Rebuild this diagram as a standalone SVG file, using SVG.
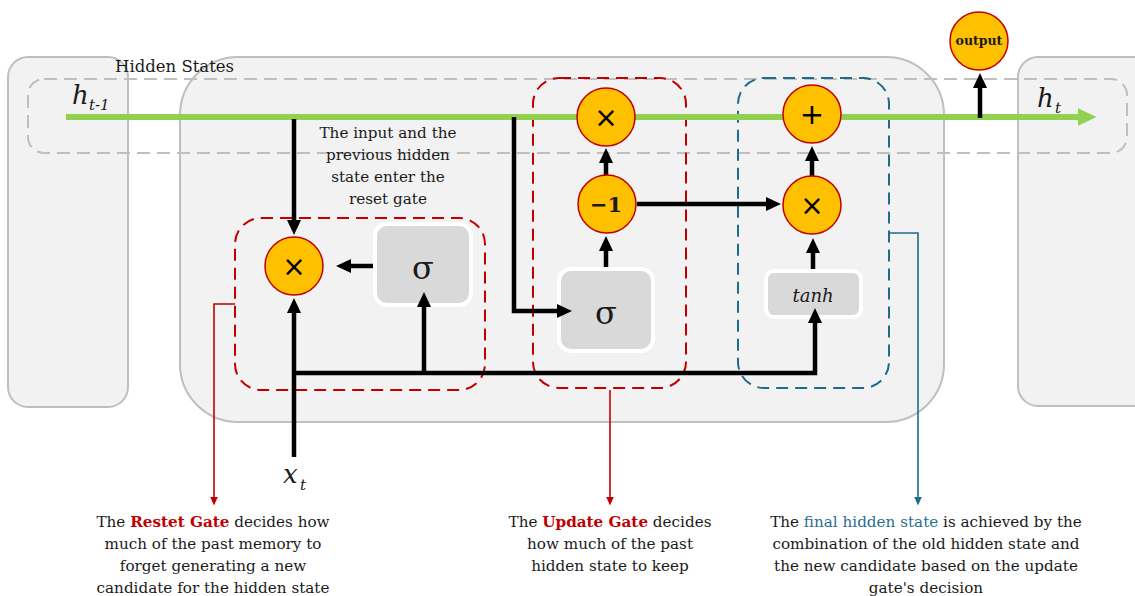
<svg xmlns="http://www.w3.org/2000/svg" width="1135" height="596" viewBox="0 0 1135 596">
  <style>
    .cell { fill: #f2f2f2; stroke: #bfbfbf; stroke-width: 2; }
    .band { fill: none; stroke: #bfbfbf; stroke-width: 2; stroke-dasharray: 13 7; }
    .gate-red { fill: none; stroke: #c00000; stroke-width: 2; stroke-dasharray: 12 7; }
    .gate-blue { fill: none; stroke: #1f6b8c; stroke-width: 2; stroke-dasharray: 12 7; }
    .op { fill: #ffc000; stroke: #c00000; stroke-width: 1.5; }
    .fn { fill: #d9d9d9; stroke: #ffffff; stroke-width: 4; }
    .flow { fill: none; stroke: #000000; stroke-width: 4.5; }
    .state { fill: none; stroke: #92d050; stroke-width: 6; }
    .callout-red { fill: none; stroke: #c00000; stroke-width: 1.6; }
    .callout-blue { fill: none; stroke: #1f6b8c; stroke-width: 1.6; }
    text { font-family: "DejaVu Serif", "Liberation Serif", serif; fill: #1a1a1a; }
    .note { font-size: 15.2px; text-anchor: middle; }
    .math { font-style: italic; }
    .sym { font-family: "DejaVu Sans", "Liberation Sans", sans-serif; text-anchor: middle; fill: #000; }
    .red { fill: #c00000; font-weight: bold; }
    .blue { fill: #2b6f8f; }
  </style>
  <defs>
    <marker id="arrow" markerUnits="userSpaceOnUse" viewBox="0 0 15 14" markerWidth="15" markerHeight="14" refX="1" refY="7" orient="auto">
      <path d="M0,0 L15,7 L0,14 z" fill="#000"/>
    </marker>
    <marker id="arrow-green" markerUnits="userSpaceOnUse" viewBox="0 0 19 18" markerWidth="19" markerHeight="18" refX="0.5" refY="9" orient="auto">
      <path d="M0,0 L19,9 L0,18 z" fill="#92d050"/>
    </marker>
    <marker id="arrow-red" markerUnits="userSpaceOnUse" viewBox="0 0 9 8" markerWidth="9" markerHeight="8" refX="0.5" refY="4" orient="auto">
      <path d="M0,0 L9,4 L0,8 z" fill="#c00000"/>
    </marker>
    <marker id="arrow-blue" markerUnits="userSpaceOnUse" viewBox="0 0 9 8" markerWidth="9" markerHeight="8" refX="0.5" refY="4" orient="auto">
      <path d="M0,0 L9,4 L0,8 z" fill="#1f6b8c"/>
    </marker>
  </defs>

  <!-- unrolled GRU cells: previous, current, next -->
  <g id="cells">
    <rect class="cell" x="8" y="57" width="120" height="350" rx="20"/>
    <rect class="cell" x="180" y="57" width="764" height="365" rx="58"/>
    <rect class="cell" x="1018" y="57" width="140" height="349" rx="20"/>
  </g>

  <!-- hidden state lane -->
  <g id="hidden-states">
    <rect class="band" x="28" y="79" width="1099" height="74" rx="16"/>
    <text x="115" y="72" font-size="16.5">Hidden States</text>
  </g>

  <!-- gate regions -->
  <g id="reset-gate">
    <rect class="gate-red" x="235" y="218" width="250" height="172" rx="26"/>
  </g>
  <g id="update-gate">
    <rect class="gate-red" x="533" y="78" width="153" height="310" rx="26"/>
  </g>
  <g id="final-state">
    <rect class="gate-blue" x="738" y="78" width="151" height="310" rx="26"/>
  </g>

  <!-- activation blocks -->
  <g id="reset-sigma">
    <rect class="fn" x="375" y="224" width="96" height="81" rx="12"/>
    <text x="423" y="279" font-size="32" text-anchor="middle" fill="#000">σ</text>
  </g>
  <g id="update-sigma">
    <rect class="fn" x="559" y="269" width="94" height="82" rx="12"/>
    <text x="606" y="324" font-size="32" text-anchor="middle" fill="#000">σ</text>
  </g>
  <g id="tanh">
    <rect class="fn" x="766" y="271" width="95" height="46" rx="8"/>
    <text class="math" x="813" y="302" font-size="18" text-anchor="middle" fill="#000">tanh</text>
  </g>

  <!-- data flow -->
  <g id="connectors">
    <path class="state" d="M66,117 H1078" marker-end="url(#arrow-green)"/>
    <path class="flow" d="M294,119 V221" marker-end="url(#arrow)"/>
    <path class="flow" d="M373,266 H350" marker-end="url(#arrow)"/>
    <path class="flow" d="M294,457 V312" marker-end="url(#arrow)"/>
    <path class="flow" d="M294,373 H815 V322" marker-end="url(#arrow)"/>
    <path class="flow" d="M424,373 V306" marker-end="url(#arrow)"/>
    <path class="flow" d="M514,117 V311 H558" marker-end="url(#arrow)"/>
    <path class="flow" d="M606,267 V250" marker-end="url(#arrow)"/>
    <path class="flow" d="M606,175 V162" marker-end="url(#arrow)"/>
    <path class="flow" d="M637,204 H767" marker-end="url(#arrow)"/>
    <path class="flow" d="M813,269 V252" marker-end="url(#arrow)"/>
    <path class="flow" d="M812,176 V160" marker-end="url(#arrow)"/>
    <path class="flow" d="M980,118 V87" marker-end="url(#arrow)"/>
    <path class="callout-red" d="M235,304 H214 V497" marker-end="url(#arrow-red)"/>
    <path class="callout-red" d="M610,390 V497" marker-end="url(#arrow-red)"/>
    <path class="callout-blue" d="M889,233 H918 V497" marker-end="url(#arrow-blue)"/>
  </g>

  <!-- pointwise operations -->
  <g id="reset-mul">
    <circle class="op" cx="294" cy="266" r="29"/>
    <text class="sym" x="294" y="276" font-size="28">×</text>
  </g>
  <g id="update-mul">
    <circle class="op" cx="606" cy="117" r="29"/>
    <text class="sym" x="606" y="127" font-size="28">×</text>
  </g>
  <g id="one-minus">
    <circle class="op" cx="607" cy="204" r="29"/>
    <text x="606" y="212" font-size="21" font-weight="bold" text-anchor="middle" fill="#000">−1</text>
  </g>
  <g id="final-mul">
    <circle class="op" cx="812" cy="205" r="29"/>
    <text class="sym" x="812" y="215" font-size="28">×</text>
  </g>
  <g id="add">
    <circle class="op" cx="812" cy="114" r="29"/>
    <text class="sym" x="812" y="124" font-size="29">+</text>
  </g>
  <g id="output">
    <circle class="op" cx="979" cy="41" r="29"/>
    <text x="979" y="45" font-size="12.5" font-weight="bold" text-anchor="middle" fill="#000">output</text>
  </g>

  <!-- state and input symbols -->
  <g id="h-prev">
    <text class="math" x="72" y="104" font-size="26" fill="#000">h</text>
    <text class="math" x="89" y="110" font-size="15" fill="#000">t-1</text>
  </g>
  <g id="h-t">
    <text class="math" x="1037" y="107" font-size="26" fill="#000">h</text>
    <text class="math" x="1055" y="113" font-size="15" fill="#000">t</text>
  </g>
  <g id="x-t">
    <text class="math" x="283" y="483" font-size="26" fill="#000">x</text>
    <text class="math" x="300" y="490" font-size="15" fill="#000">t</text>
  </g>

  <!-- explanations -->
  <g id="note-input">
    <text class="note" x="388" y="138">The input and the</text>
    <text class="note" x="388" y="160">previous hidden</text>
    <text class="note" x="388" y="182">state enter the</text>
    <text class="note" x="388" y="204">reset gate</text>
  </g>
  <g id="note-reset">
    <text class="note" x="213" y="527">The <tspan class="red">Restet Gate</tspan> decides how</text>
    <text class="note" x="213" y="549">much of the past memory to</text>
    <text class="note" x="213" y="571">forget generating a new</text>
    <text class="note" x="213" y="593">candidate for the hidden state</text>
  </g>
  <g id="note-update">
    <text class="note" x="610" y="527">The <tspan class="red">Update Gate</tspan> decides</text>
    <text class="note" x="610" y="549">how much of the past</text>
    <text class="note" x="610" y="571">hidden state to keep</text>
  </g>
  <g id="note-final">
    <text class="note" x="926" y="527">The <tspan class="blue">final hidden state</tspan> is achieved by the</text>
    <text class="note" x="926" y="549">combination of the old hidden state and</text>
    <text class="note" x="926" y="571">the new candidate based on the update</text>
    <text class="note" x="926" y="593">gate's decision</text>
  </g>
</svg>
